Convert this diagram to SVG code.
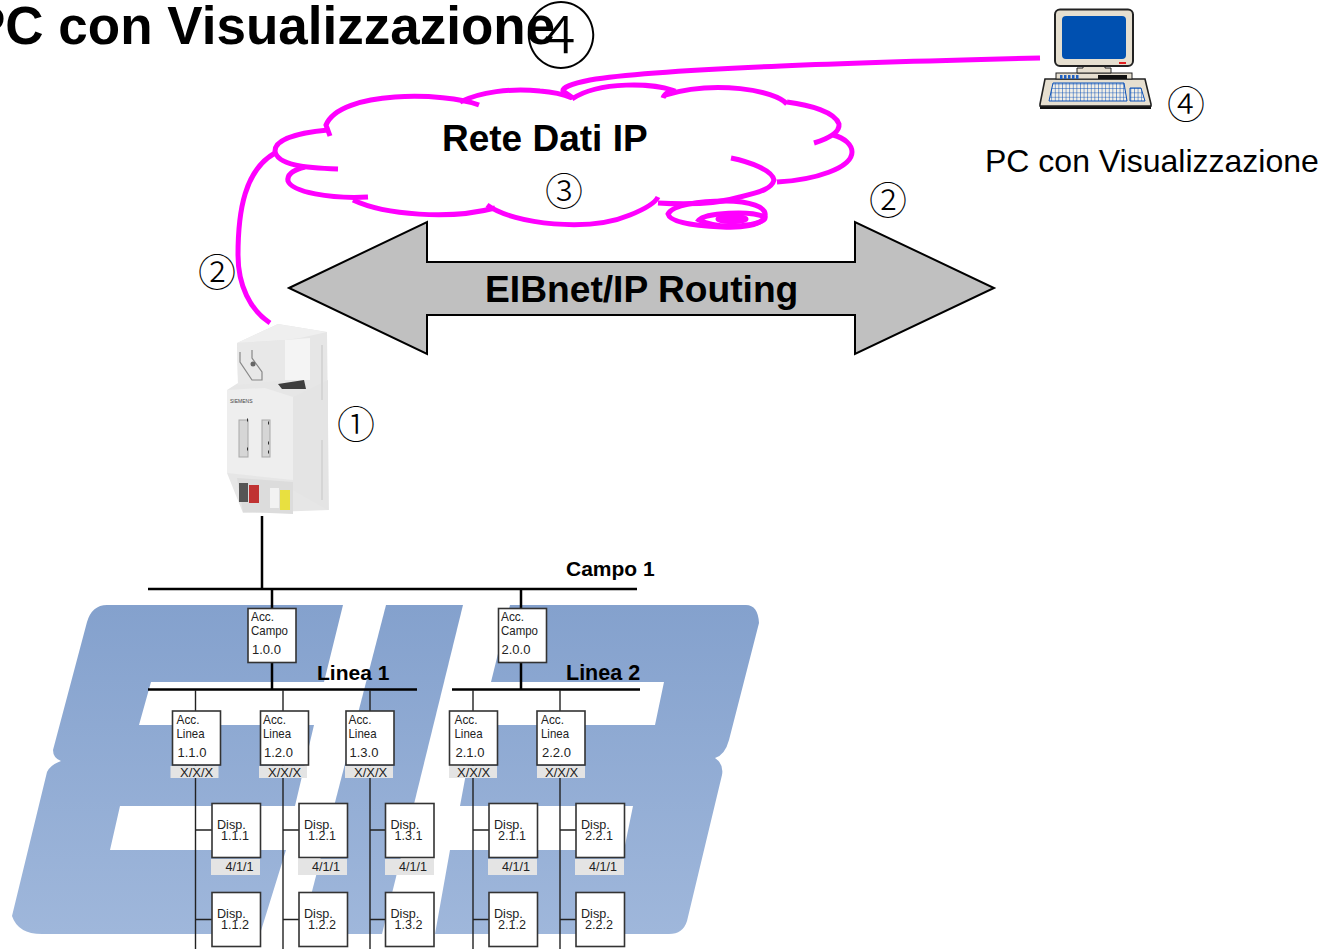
<svg xmlns="http://www.w3.org/2000/svg" width="1329" height="949" viewBox="0 0 1329 949">
<style>
text{font-family:"Liberation Sans",Arial,sans-serif;fill:#000}
.b{font-weight:bold}
.s{font-size:13px;fill:#222}
.d{font-size:12.6px;fill:#222}
.n{font-family:"Noto Sans CJK JP","Liberation Sans",sans-serif;font-size:38px;font-weight:300;text-anchor:middle}
.box{fill:#fff;stroke:#333;stroke-width:1.6}
.tag{fill:#e4e4e4}
.mg{fill:none;stroke:#ff00ff;stroke-width:5;stroke-linecap:butt}
.wire{fill:none;stroke:#222;stroke-width:1.4}
.bus{fill:none;stroke:#000;stroke-width:2.5}
</style>
<defs>
<linearGradient id="eib" x1="0" y1="605" x2="0" y2="934" gradientUnits="userSpaceOnUse"><stop offset="0" stop-color="#84a1cd"/><stop offset="1" stop-color="#9fb7db"/></linearGradient>
<pattern id="keys" width="3.6" height="4.4" patternUnits="userSpaceOnUse"><rect width="3.6" height="4.4" fill="#f2efe6"/><path d="M0 0H3.6M0 0V4.4" stroke="#0a50b8" stroke-width="1" fill="none"/></pattern>
<filter id="soft" x="-5%" y="-5%" width="110%" height="110%"><feGaussianBlur stdDeviation="0.6"/></filter>
</defs>

<g id="eib-logo" fill="url(#eib)">
<path d="M107,605H343L324,682H151L139,725H314L295,806H120L110,850H286L260,934H42Q18,934 12,916L47,772Q50,765 61,761Q53,758 53,750L87,622Q92,605 107,605Z"/>
<path d="M386,605H463L382,934H301Z"/>
<path d="M510,605H746Q758,605 759,623L729,740Q725,755 715,758Q724,764 722,775L687,921Q683,934 669,934H435L450,850H624L633,806H460L475,725H655L664,682H491Z"/>
</g>

<g id="title"><text class="b" x="-30" y="44" font-size="53">PC con Visualizzazione</text></g>
<g id="title-number"><text class="n" x="561" y="62" style="font-size:72px">④</text></g>

<g id="connectors">
<path class="mg" d="M1040,58C880,62 660,68 590,80C570,84 562,88 563,91L573,98"/>
<path class="mg" d="M275,153C245,170 238,210 238,255C238,285 250,310 270,323"/>
<path class="bus" d="M148,589H637"/>
<path class="bus" d="M148,689.500H417M452,689.500H640"/>
<path class="bus" d="M262,516V589M272,589V608M521,589V608M272,662V689M521,662V689"/>
<path class="wire" d="M195.500,690V711M283,690V711M370,690V711M473,690V711M560,690V711"/>
<path class="wire" d="M195.500,765V949M283,765V949M370,765V949M473,765V949M560,765V949"/>
<path class="wire" d="M195.500,830H212M283,830H299M370,830H385M473,830H489M560,830H576M195.500,919.500H212M283,919.500H299M370,919.500H385M473,919.500H489M560,919.500H576"/>
</g>

<g id="cloud">
<path class="mg" d="M479,105C445,92 340,90 326,125L330,136"/>
<path class="mg" d="M328,130C295,133 275,140 275,151C277,165 305,168 338,169"/>
<path class="mg" d="M305,167C293,170 287,175 288,181C292,192 330,199 368,197"/>
<path class="mg" d="M353,200C385,215 450,220 495,208"/>
<path class="mg" d="M487,205C515,225 590,232 630,215C645,209 655,203 658,197"/>
<path class="mg" d="M658,203C690,205 717,204 740,197C762,192 772,188 774,180C772,170 750,162 731,158"/>
<path class="mg" d="M777,182C815,180 852,168 852,152C852,145 845,138 833,135"/>
<path class="mg" d="M814,143C830,138 840,132 839,124C835,112 810,105 787,102"/>
<path class="mg" d="M787,104C775,90 715,80 665,95"/>
<path class="mg" d="M663,98C665,92 670,92 672,90C655,84 600,80 572,99"/>
<path class="mg" d="M460,102C480,92 510,88 540,91C555,92 565,95 572,98"/>
<path class="mg" d="M668,214C672,205 700,201 725,201C750,201 767,207 765,216C762,226 740,228 722,227C695,226 670,222 668,214Z" stroke-width="3.500"/>
<path class="mg" d="M699,220C705,213 750,210 765,217C768,225 720,231 699,220Z" stroke-width="3"/>
<ellipse class="mg" cx="732" cy="219" rx="14" ry="2.500" stroke-width="3"/>
<text class="b" x="442" y="151" font-size="37">Rete Dati IP</text>
</g>
<g id="n3"><text class="n" x="564" y="205">③</text></g>

<g id="routing-arrow">
<polygon points="289,288 427,222 427,262 855,262 855,222 994,288 855,354 855,315 427,315 427,354" fill="#c0c0c0" stroke="#000" stroke-width="2"/>
<text class="b" x="485" y="302" font-size="37.200">EIBnet/IP Routing</text>
</g>
<g id="n2a"><text class="n" x="217" y="286">②</text></g>
<g id="n2b"><text class="n" x="888" y="214">②</text></g>

<g id="pc">
<path d="M1040,103V109H1151V103Z" fill="#111"/>
<path d="M1045,79H1145L1151,104V106H1040V104Z" fill="#e6dfd0" stroke="#222" stroke-width="1.600"/>
<rect x="1056" y="73" width="76" height="6" fill="#e6dfd0" stroke="#222"/>
<path d="M1060,77H1079" stroke="#2060c0" stroke-width="4" stroke-dasharray="2.500 1.500" fill="none"/>
<rect x="1098" y="75" width="29" height="4" fill="#111"/>
<path d="M1083,65H1105V68H1111V73H1077V68H1083Z" fill="#e6dfd0" stroke="#222"/>
<rect x="1055" y="9.500" width="78" height="56.500" rx="5" fill="#e6dfd0" stroke="#222" stroke-width="2"/>
<rect x="1062" y="16" width="64" height="43" rx="4" fill="#0050b0"/>
<rect x="1119" y="62" width="7" height="2" fill="#e02020"/>
<path d="M1053,83H1124L1127,101H1049Z" fill="url(#keys)" stroke="#0a50b8"/>
<path d="M1130,88H1141L1145,101H1130Z" fill="url(#keys)" stroke="#0a50b8"/>
</g>
<g id="n4"><text class="n" x="1186" y="118">④</text></g>
<g id="pc-label"><text x="985" y="172" font-size="32">PC con Visualizzazione</text></g>

<g id="device">
<g filter="url(#soft)">
<path d="M237,343L278,324L327,332L329,510L243,513L227,473V390L238,383Z" fill="#e6e6e6"/>
<path d="M237,343L278,324L327,332L300,338L285,340Z" fill="#efefef"/>
<path d="M227,390L265,388L293,397V480L227,473Z" fill="#eeeeee"/>
<path d="M293,397L328,380V510L293,490Z" fill="#e4e4e4"/>
<path d="M237,343L285,340V380L238,385Z" fill="#e8e8e8"/>
<path d="M285,340L310,338V380H285Z" fill="#f4f4f4"/>
<path d="M278,384L304,380L306,389L282,389Z" fill="#3c3c3c"/>
<path d="M322,345V400M322,440V500" stroke="#cfcfcf" stroke-width="1.500" fill="none"/>
<path d="M240,352V362L252,380H262V372L252,358V350" fill="none" stroke="#888" stroke-width="1.200"/>
<circle cx="253" cy="364" r="2.500" fill="#666"/>
<rect x="239" y="420" width="9" height="37" fill="#d6d6d6" stroke="#a8a8a8"/>
<rect x="262" y="420" width="8" height="37" fill="#d6d6d6" stroke="#a8a8a8"/>
<path d="M247,420h1M247,449h1M268,423h1M268,443h1M268,452h1" stroke="#333" stroke-width="3" fill="none"/>
<path d="M237,478L293,482V514L243,512Z" fill="#dcdcdc"/>
<rect x="239" y="483" width="9" height="19" fill="#555"/>
<rect x="249" y="485" width="10" height="18" fill="#c03030"/>
<rect x="270" y="488" width="9" height="20" fill="#f2f2f2"/>
<rect x="280" y="490" width="10" height="20" fill="#e8e040"/>
</g>
<text x="230" y="403" font-size="5" style="fill:#444">SIEMENS</text>
</g>
<g id="n1"><text class="n" x="356" y="438">①</text></g>

<g id="campo-label"><text class="b" x="566" y="576" font-size="21">Campo 1</text></g>
<g id="linea1-label"><text class="b" x="317" y="680" font-size="21">Linea 1</text></g>
<g id="linea2-label"><text class="b" x="566" y="680" font-size="21.500">Linea 2</text></g>

<g id="acc-campo-1"><rect class="box" x="248" y="608.500" width="48" height="54"/><text class="s" x="251" y="621" textLength="23" lengthAdjust="spacingAndGlyphs">Acc.</text><text class="s" x="251" y="635" textLength="37" lengthAdjust="spacingAndGlyphs">Campo</text><text class="s" x="252" y="654">1.0.0</text></g>
<g id="acc-campo-2"><rect class="box" x="498.500" y="608.500" width="48" height="54"/><text class="s" x="501" y="621" textLength="23" lengthAdjust="spacingAndGlyphs">Acc.</text><text class="s" x="501" y="635" textLength="37" lengthAdjust="spacingAndGlyphs">Campo</text><text class="s" x="501.500" y="654">2.0.0</text></g>

<g id="acc-linea-11"><rect class="box" x="172.500" y="711" width="48" height="54"/><rect class="tag" x="170.500" y="766" width="48" height="12"/><text class="s" x="176.500" y="724" textLength="23" lengthAdjust="spacingAndGlyphs">Acc.</text><text class="s" x="176.500" y="738" textLength="28" lengthAdjust="spacingAndGlyphs">Linea</text><text class="s" x="177.500" y="757">1.1.0</text><text class="s" x="180" y="777">X/X/X</text></g>
<g id="acc-linea-12"><rect class="box" x="260.500" y="711" width="48" height="54"/><rect class="tag" x="259" y="766" width="48" height="12"/><text class="s" x="263" y="724" textLength="23" lengthAdjust="spacingAndGlyphs">Acc.</text><text class="s" x="263" y="738" textLength="28" lengthAdjust="spacingAndGlyphs">Linea</text><text class="s" x="264" y="757">1.2.0</text><text class="s" x="268" y="777">X/X/X</text></g>
<g id="acc-linea-13"><rect class="box" x="346" y="711" width="48" height="54"/><rect class="tag" x="345" y="766" width="48" height="12"/><text class="s" x="348.500" y="724" textLength="23" lengthAdjust="spacingAndGlyphs">Acc.</text><text class="s" x="348.500" y="738" textLength="28" lengthAdjust="spacingAndGlyphs">Linea</text><text class="s" x="349.500" y="757">1.3.0</text><text class="s" x="354" y="777">X/X/X</text></g>
<g id="acc-linea-21"><rect class="box" x="449.500" y="711" width="48" height="54"/><rect class="tag" x="449" y="766" width="48" height="12"/><text class="s" x="454.500" y="724" textLength="23" lengthAdjust="spacingAndGlyphs">Acc.</text><text class="s" x="454.500" y="738" textLength="28" lengthAdjust="spacingAndGlyphs">Linea</text><text class="s" x="455.500" y="757">2.1.0</text><text class="s" x="457" y="777">X/X/X</text></g>
<g id="acc-linea-22"><rect class="box" x="537" y="711" width="48" height="54"/><rect class="tag" x="537" y="766" width="48" height="12"/><text class="s" x="541" y="724" textLength="23" lengthAdjust="spacingAndGlyphs">Acc.</text><text class="s" x="541" y="738" textLength="28" lengthAdjust="spacingAndGlyphs">Linea</text><text class="s" x="542" y="757">2.2.0</text><text class="s" x="545" y="777">X/X/X</text></g>

<g id="disp-111"><rect class="box" x="212" y="803.500" width="48.500" height="54"/><rect class="tag" x="211" y="859" width="49" height="16"/><text class="d" x="217" y="829">Disp.</text><text class="d" x="221" y="840">1.1.1</text><text class="d" x="225.500" y="871">4/1/1</text></g>
<g id="disp-121"><rect class="box" x="299" y="803.500" width="48.500" height="54"/><rect class="tag" x="298" y="859" width="49" height="16"/><text class="d" x="304" y="829">Disp.</text><text class="d" x="308" y="840">1.2.1</text><text class="d" x="312" y="871">4/1/1</text></g>
<g id="disp-131"><rect class="box" x="385.500" y="803.500" width="48.500" height="54"/><rect class="tag" x="385" y="859" width="49" height="16"/><text class="d" x="390.500" y="829">Disp.</text><text class="d" x="394.500" y="840">1.3.1</text><text class="d" x="399" y="871">4/1/1</text></g>
<g id="disp-211"><rect class="box" x="489" y="803.500" width="48.500" height="54"/><rect class="tag" x="488" y="859" width="49" height="16"/><text class="d" x="494" y="829">Disp.</text><text class="d" x="498" y="840">2.1.1</text><text class="d" x="502" y="871">4/1/1</text></g>
<g id="disp-221"><rect class="box" x="576" y="803.500" width="48.500" height="54"/><rect class="tag" x="575" y="859" width="49" height="16"/><text class="d" x="581" y="829">Disp.</text><text class="d" x="585" y="840">2.2.1</text><text class="d" x="589" y="871">4/1/1</text></g>

<g id="disp-112"><rect class="box" x="212" y="892.500" width="48.500" height="54"/><text class="d" x="217" y="918">Disp.</text><text class="d" x="221" y="929">1.1.2</text></g>
<g id="disp-122"><rect class="box" x="299" y="892.500" width="48.500" height="54"/><text class="d" x="304" y="918">Disp.</text><text class="d" x="308" y="929">1.2.2</text></g>
<g id="disp-132"><rect class="box" x="385.500" y="892.500" width="48.500" height="54"/><text class="d" x="390.500" y="918">Disp.</text><text class="d" x="394.500" y="929">1.3.2</text></g>
<g id="disp-212"><rect class="box" x="489" y="892.500" width="48.500" height="54"/><text class="d" x="494" y="918">Disp.</text><text class="d" x="498" y="929">2.1.2</text></g>
<g id="disp-222"><rect class="box" x="576" y="892.500" width="48.500" height="54"/><text class="d" x="581" y="918">Disp.</text><text class="d" x="585" y="929">2.2.2</text></g>
</svg>
